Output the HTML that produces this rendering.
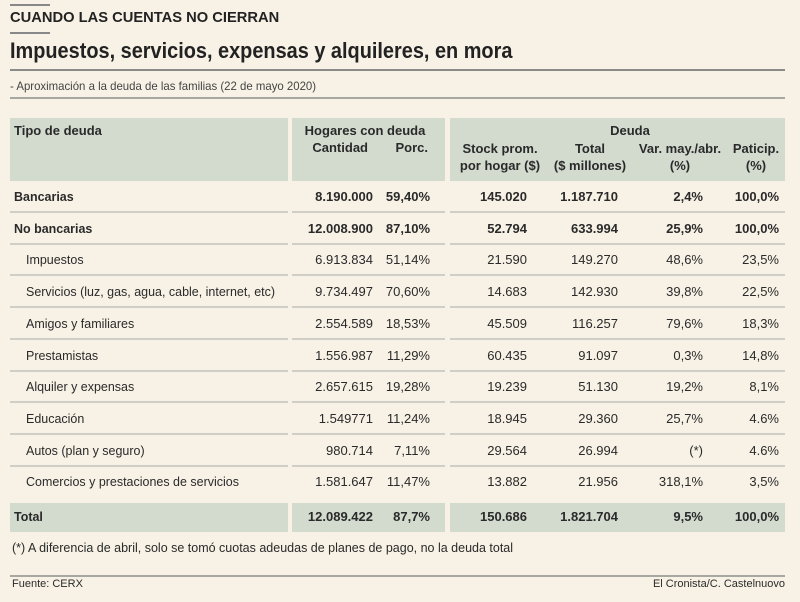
<!DOCTYPE html>
<html><head><meta charset="utf-8">
<style>
body{margin:0;width:800px;height:602px;background:#f8f2e6;overflow:hidden;font-family:"Liberation Sans Narrow","Liberation Sans",sans-serif;color:#2a2a2a;position:relative}
.a{position:absolute;white-space:nowrap}
.r{text-align:right}
.c{text-align:center}
.band{position:absolute;background:#d3dbcf}
.hl{position:absolute;height:2px;background:#b9b9b3}
.t{font-size:13px}
</style></head><body>
<div class="hl" style="left:10px;top:4px;width:40px;background:#888"></div>
<div class="a" style="left:10px;top:9px;font-size:15px;font-weight:bold;color:#222;transform:scaleX(0.98);transform-origin:left">CUANDO LAS CUENTAS NO CIERRAN</div>
<div class="hl" style="left:10px;top:32px;width:40px;background:#888"></div>
<div class="a" style="left:10px;top:38px;font-size:22px;font-weight:bold;color:#222;transform:scaleX(0.905);transform-origin:left">Impuestos, servicios, expensas y alquileres, en mora</div>
<div class="hl" style="left:10px;top:69px;width:775px;background:#8a8a86"></div>
<div class="a" style="left:10px;top:79px;font-size:12px;color:#444;transform:scaleX(0.95);transform-origin:left">- Aproximación a la deuda de las familias (22 de mayo 2020)</div>
<div class="hl" style="left:10px;top:97px;width:775px;background:#a8a8a2"></div>

<div class="band" style="left:10px;top:118px;width:278px;height:63px"></div>
<div class="band" style="left:292px;top:118px;width:153px;height:63px"></div>
<div class="band" style="left:450px;top:118px;width:335px;height:63px"></div>
<div class="band" style="left:10px;top:503px;width:278px;height:29px"></div>
<div class="band" style="left:292px;top:503px;width:153px;height:29px"></div>
<div class="band" style="left:450px;top:503px;width:335px;height:29px"></div>

<div class="a t" style="left:14px;top:123px;font-weight:bold">Tipo de deuda</div>
<div class="a t c" style="left:300px;width:130px;top:123px;font-weight:bold">Hogares con deuda</div>
<div class="a t r" style="left:300px;width:68px;top:140px;font-weight:bold">Cantidad</div>
<div class="a t r" style="left:380px;width:48px;top:140px;font-weight:bold">Porc.</div>
<div class="a t c" style="left:580px;width:100px;top:123px;font-weight:bold">Deuda</div>
<div class="a t c" style="left:455px;width:90px;top:140px;font-weight:bold;line-height:17px">Stock prom.<br>por hogar ($)</div>
<div class="a t c" style="left:550px;width:80px;top:140px;font-weight:bold;line-height:17px">Total<br>($ millones)</div>
<div class="a t c" style="left:635px;width:90px;top:140px;font-weight:bold;line-height:17px">Var. may./abr.<br>(%)</div>
<div class="a t c" style="left:726px;width:60px;top:140px;font-weight:bold;line-height:17px">Paticip.<br>(%)</div>

<div id="rows"></div>

<div class="a" style="left:12px;top:541px;font-size:12.5px">(*) A diferencia de abril, solo se tomó cuotas adeudas de planes de pago, no la deuda total</div>
<div class="hl" style="left:10px;top:575px;width:775px;background:#a8a8a2"></div>
<div class="a" style="left:12px;top:578px;font-size:11px">Fuente: CERX</div>
<div class="a r" style="left:585px;width:200px;top:578px;font-size:11px">El Cronista/C. Castelnuovo</div>

<script>
const labels=["Bancarias","No bancarias","Impuestos","Servicios (luz, gas, agua, cable, internet, etc)","Amigos y familiares","Prestamistas","Alquiler y expensas","Educación","Autos (plan y seguro)","Comercios y prestaciones de servicios","Total"];
const cantidad=["8.190.000","12.008.900","6.913.834","9.734.497","2.554.589","1.556.987","2.657.615","1.549771","980.714","1.581.647","12.089.422"];
const porc=["59,40%","87,10%","51,14%","70,60%","18,53%","11,29%","19,28%","11,24%","7,11%","11,47%","87,7%"];
const stock=["145.020","52.794","21.590","14.683","45.509","60.435","19.239","18.945","29.564","13.882","150.686"];
const total=["1.187.710","633.994","149.270","142.930","116.257","91.097","51.130","29.360","26.994","21.956","1.821.704"];
const variacion=["2,4%","25,9%","48,6%","39,8%","79,6%","0,3%","19,2%","25,7%","(*)","318,1%","9,5%"];
const paticip=["100,0%","100,0%","23,5%","22,5%","18,3%","14,8%","8,1%","4.6%","4.6%","3,5%","100,0%"];
const host=document.getElementById('rows');
const cols=[[cantidad,373],[porc,430],[stock,527],[total,618],[variacion,703],[paticip,779]];
labels.forEach((lab,i)=>{
  const y=189+i*31.7+(i===10?3:0);
  const bold=(i<2||i===10);
  const row=document.createElement('div');
  
  
  host.appendChild(row);
  const l=document.createElement('div');
  l.className='a t';
  
  
  l.style.cssText=`left:${bold?14:26}px;top:${y}px;font-weight:${bold?'bold':'normal'};transform:scaleX(0.96);transform-origin:left`;
  l.textContent=lab;row.appendChild(l);
  cols.forEach(([arr,rx])=>{
    const d=document.createElement('div');
    d.className='a t r';
    
    
    d.style.cssText=`left:${rx-100}px;width:100px;top:${y}px;font-weight:${bold?'bold':'normal'}`;
    d.textContent=arr[i];row.appendChild(d);
  });
  if(i<9){
    [[10,278],[292,153],[450,335]].forEach(([x,w])=>{
      const ln=document.createElement('div');
      ln.className='hl';
      
      
      ln.style.cssText=`left:${x}px;width:${w}px;top:${y+22}px;background:#cfcfc8`;
      row.appendChild(ln);
    });
  }
});
</script>
</body></html>
